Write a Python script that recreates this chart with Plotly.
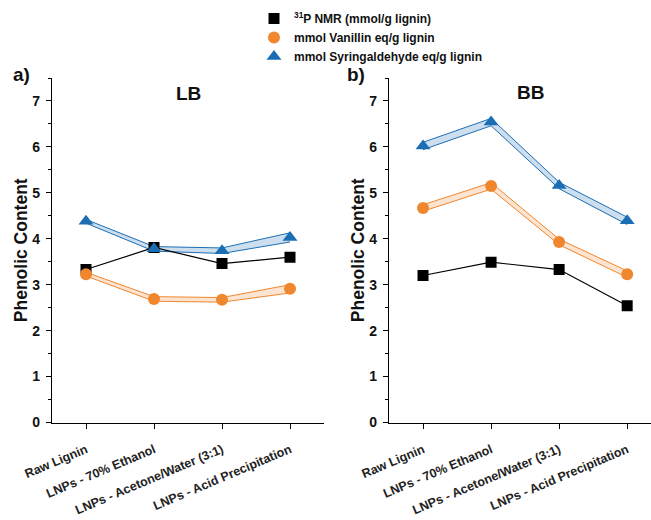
import plotly.graph_objects as go

categories = ["Raw Lignin", "LNPs - 70% Ethanol", "LNPs - Acetone/Water (3:1)", "LNPs - Acid Precipitation"]

# LB panel
lb_nmr = [3.33, 3.81, 3.46, 3.60]
lb_van = [3.23, 2.69, 2.67, 2.91]
lb_van_err = [0.04, 0.05, 0.05, 0.09]
lb_syr = [4.38, 3.78, 3.74, 4.03]
lb_syr_err = [0.04, 0.05, 0.06, 0.10]

# BB panel
bb_nmr = [3.20, 3.49, 3.33, 2.54]
bb_van = [4.67, 5.15, 3.93, 3.23]
bb_van_err = [0.07, 0.07, 0.06, 0.07]
bb_syr = [6.02, 6.54, 5.16, 4.39]
bb_syr_err = [0.08, 0.08, 0.07, 0.08]

legend_names = ["<sup>31</sup>P NMR (mmol/g lignin)", "mmol Vanillin eq/g lignin", "mmol Syringaldehyde eq/g lignin"]

BLACK = "#000000"
ORANGE = "rgb(240,134,45)"
ORANGE_F = "rgba(240,134,45,0.22)"
BLUE = "rgb(28,110,180)"
BLUE_F = "rgba(28,110,180,0.22)"
FONT = "Liberation Sans, Arial, sans-serif"

x_idx = list(range(len(categories)))

fig = go.Figure()

def add_panel(nmr, van, van_err, syr, syr_err, xa, ya, legend):
    # bands
    for vals, err, col, fcol in [(syr, syr_err, BLUE, BLUE_F), (van, van_err, ORANGE, ORANGE_F)]:
        up = [v + e for v, e in zip(vals, err)]
        lo = [v - e for v, e in zip(vals, err)]
        fig.add_trace(go.Scatter(x=x_idx, y=up, mode="lines", line=dict(color=col, width=1),
                                 showlegend=False, hoverinfo="skip", xaxis=xa, yaxis=ya))
        fig.add_trace(go.Scatter(x=x_idx, y=lo, mode="lines", line=dict(color=col, width=1),
                                 fill="tonexty", fillcolor=fcol,
                                 showlegend=False, hoverinfo="skip", xaxis=xa, yaxis=ya))
    fig.add_trace(go.Scatter(x=x_idx, y=nmr, mode="lines", line=dict(color=BLACK, width=1.2),
                             showlegend=False, hoverinfo="skip", xaxis=xa, yaxis=ya))
    fig.add_trace(go.Scatter(x=x_idx, y=nmr, mode="markers", name=legend_names[0],
                             marker=dict(symbol="square", size=11, color=BLACK),
                             showlegend=legend, xaxis=xa, yaxis=ya))
    fig.add_trace(go.Scatter(x=x_idx, y=van, mode="markers", name=legend_names[1],
                             marker=dict(symbol="circle", size=12, color=ORANGE),
                             showlegend=legend, xaxis=xa, yaxis=ya))
    fig.add_trace(go.Scatter(x=x_idx, y=syr, mode="markers", name=legend_names[2],
                             marker=dict(symbol="triangle-up", size=13, color=BLUE),
                             showlegend=legend, xaxis=xa, yaxis=ya))

add_panel(lb_nmr, lb_van, lb_van_err, lb_syr, lb_syr_err, "x", "y", True)
add_panel(bb_nmr, bb_van, bb_van_err, bb_syr, bb_syr_err, "x2", "y2", False)

ydom = [1 - 422.5 / 520, 1 - 78 / 520]
xcommon = dict(
    tickmode="array", tickvals=x_idx, ticktext=categories, tickangle=-23,
    showline=True, linecolor="black", linewidth=1.3, ticks="outside", ticklen=5,
    tickwidth=1.2, tickcolor="black", showgrid=False, zeroline=False, automargin=False,
    ticklabelstandoff=9,
    tickfont=dict(family=FONT, size=12.5, color="#222", weight="bold"),
)
ycommon = dict(
    range=[0, 7.5], tickvals=[0, 1, 2, 3, 4, 5, 6, 7], showline=True, linecolor="black",
    linewidth=1.3, ticks="outside", ticklen=5, tickwidth=1.2, tickcolor="black",
    minor=dict(tickvals=[0.5, 1.5, 2.5, 3.5, 4.5, 5.5, 6.5, 7.5], ticklen=3, tickwidth=1.2, tickcolor="black", ticks="outside"),
    showgrid=False, zeroline=False, domain=ydom, automargin=False, ticklabelstandoff=3,
    tickfont=dict(family=FONT, size=14, color="#111", weight="bold"),
    title=dict(text="Phenolic Content", font=dict(family=FONT, size=17.5, color="#111", weight="bold"), standoff=0),
)

fig.update_layout(
    width=651, height=520, margin=dict(l=0, r=0, t=0, b=0, autoexpand=False),
    plot_bgcolor="white", paper_bgcolor="white",
    xaxis=dict(domain=[52 / 651, 324 / 651], range=[-0.5, 3.5], **xcommon),
    xaxis2=dict(domain=[389 / 651, 1.0], range=[-0.5, 3.35], anchor="y2", **xcommon),
    yaxis=dict(anchor="x", **ycommon),
    yaxis2=dict(anchor="x2", **ycommon),
    showlegend=True,
    legend=dict(x=254 / 651, y=1 - 4 / 520, xanchor="left", yanchor="top", traceorder="normal",
                font=dict(family=FONT, size=12, color="#111", weight="bold"),
                bgcolor="rgba(0,0,0,0)", itemwidth=30, tracegroupgap=0),
    annotations=[
        dict(text="a)", x=11 / 651, y=1 - 75 / 520, xref="paper", yref="paper", showarrow=False,
             xanchor="left", yanchor="middle", font=dict(family=FONT, size=19, color="#111", weight="bold")),
        dict(text="b)", x=345 / 651, y=1 - 75 / 520, xref="paper", yref="paper", showarrow=False,
             xanchor="left", yanchor="middle", font=dict(family=FONT, size=19, color="#111", weight="bold")),
        dict(text="LB", x=188 / 651, y=1 - 93 / 520, xref="paper", yref="paper", showarrow=False,
             xanchor="center", yanchor="middle", font=dict(family=FONT, size=19, color="#111", weight="bold")),
        dict(text="BB", x=530 / 651, y=1 - 92 / 520, xref="paper", yref="paper", showarrow=False,
             xanchor="center", yanchor="middle", font=dict(family=FONT, size=19, color="#111", weight="bold")),
    ],
)

fig.write_html("out.html")
